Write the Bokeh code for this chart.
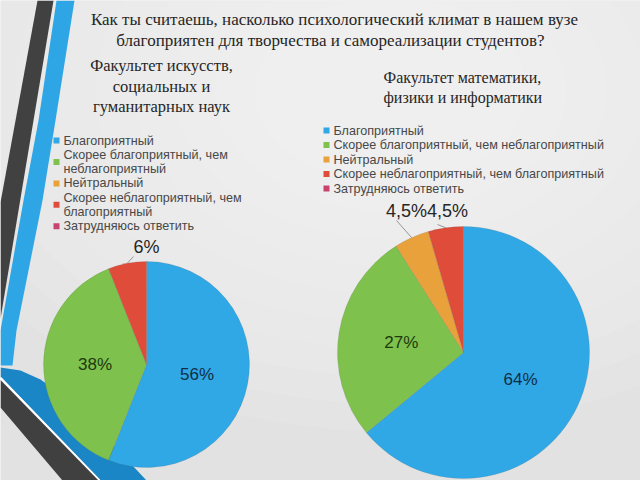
import numpy as np
from bokeh.plotting import figure
from bokeh.models import Range1d
from bokeh.embed import file_html
from bokeh.resources import INLINE
from bokeh.core.properties import value

# ---------------- data ----------------
categories = [
    "Благоприятный",
    "Скорее благоприятный, чем неблагоприятный",
    "Нейтральный",
    "Скорее неблагоприятный, чем благоприятный",
    "Затрудняюсь ответить",
]
slice_colors = ["#30A8E6", "#7EC14D", "#E9A13C", "#DF4C3A", "#C8446F"]
label_colors = ["#0F2E45", "#1D3A0F", "#262626", "#262626", "#262626"]

arts_values = [56, 38, 0, 6, 0]
arts_labels = ["56%", "38%", "", "6%", ""]
math_values = [64, 27, 4.5, 4.5, 0]
math_labels = ["64%", "27%", "4,5%", "4,5%", ""]

title_lines = [
    "Как ты считаешь, насколько психологический климат в нашем вузе",
    "благоприятен для творчества и самореализации студентов?",
]
arts_title = ["Факультет искусств,", "социальных и", "гуманитарных наук"]
math_title = ["Факультет математики,", "физики и информатики"]

# ---------------- layout ----------------
W, H = 640, 480
def Y(v):
    return H - v

SANS = "Liberation Sans"
SERIF = "Liberation Serif"

p = figure(width=W, height=H, x_range=Range1d(0, W), y_range=Range1d(0, H),
           output_backend="svg", toolbar_location=None, min_border=0,
           x_axis_location=None, y_axis_location=None)
p.grid.visible = False
p.outline_line_color = None
p.background_fill_color = "#E2E2E2"
p.border_fill_color = "#E2E2E2"

# soft radial background light
for k in range(10):
    rr = 620 - k * 50
    p.ellipse(x=390, y=Y(90), width=rr * 1.6, height=rr * 1.1,
              fill_color="white", fill_alpha=0.08, line_color=None)

# decorative stripes on the left
p.patch(x=[37, 53, 0, 0], y=[Y(0), Y(0), Y(318), Y(202)], fill_color="#414141", line_color=None)
p.patch(x=[56, 74, 55, 42, 16, 12, 0, 0, 23, 38],
        y=[Y(0), Y(0), Y(120), Y(200), Y(330), Y(365), Y(365), Y(330), Y(200), Y(120)],
        fill_color="#2EA6E5", line_color=None)
p.patch(x=[0, 20, 40, 60, 90, 146, 100, 0],
        y=[Y(367), Y(370), Y(379), Y(393), Y(420), Y(480), Y(480), Y(376)],
        fill_color="#1A86C6", line_color=None)
p.line(x=[0, 99], y=[Y(377.5), Y(480)], line_color="white", line_width=2)
p.patch(x=[0, 98, 62, 0], y=[Y(379.5), Y(480), Y(480), Y(407)], fill_color="#404040", line_color=None)

# titles
p.text(x=[334, 330], y=[Y(19), Y(40)], text=title_lines, text_align="center",
       text_baseline="middle", text_font=value(SERIF), text_font_size="17px",
       text_color="#262626")
p.text(x=[161] * 3, y=[Y(65), Y(86), Y(106)], text=arts_title, text_align="center",
       text_baseline="middle", text_font=value(SERIF), text_font_size="16.5px",
       text_color="#262626")
p.text(x=[383] * 2, y=[Y(77), Y(97)], text=math_title, text_align="left",
       text_baseline="middle", text_font=value(SERIF), text_font_size="16px",
       text_color="#262626")


def wrap(label, width):
    words, lines, cur = label.split(" "), [], ""
    for w in words:
        cand = (cur + " " + w).strip()
        if len(cand) > width and cur:
            lines.append(cur)
            cur = w
        else:
            cur = cand
    lines.append(cur)
    return lines


def legend(x0, y0, step, width):
    tx, ty, tt, mx, my, mc = [], [], [], [], [], []
    row = 0
    for cat, col in zip(categories, slice_colors):
        lines = wrap(cat, width)
        ys = []
        for ln in lines:
            yy = y0 + row * step
            tx.append(x0 + 7); ty.append(Y(yy)); tt.append(ln)
            ys.append(yy)
            row += 1
        mx.append(x0); my.append(Y(sum(ys) / len(ys))); mc.append(col)
    p.scatter(x=mx, y=my, marker="square", size=6, fill_color=mc, line_color=None)
    p.text(x=tx, y=ty, text=tt, text_baseline="middle", text_font=value(SANS),
           text_font_size="12.6px", text_color="#484848")


legend(56, 140, 14.3, 27)
legend(326, 130, 14.5, 60)


def pie(cx, cy, r, vals, labels, outside):
    vals = np.asarray(vals, dtype=float)
    frac = vals / vals.sum()
    cum = np.concatenate([[0.0], np.cumsum(frac)])
    start = np.pi / 2 - 2 * np.pi * cum[1:]
    end = np.pi / 2 - 2 * np.pi * cum[:-1]
    keep = vals > 0
    p.wedge(x=cx, y=Y(cy), radius=r, start_angle=start[keep], end_angle=end[keep],
            fill_color=[c for c, k in zip(slice_colors, keep) if k],
            line_color="#5a5a5a", line_alpha=0.25, line_width=0.6)
    mid = (start + end) / 2
    ix, iy, it, ic = [], [], [], []
    for i in range(len(vals)):
        if not keep[i]:
            continue
        if i in outside:
            lx, ly, ex, ey = outside[i]
            sx = cx + r * np.cos(mid[i])
            sy = Y(cy) + r * np.sin(mid[i])
            p.segment(x0=sx, y0=sy, x1=ex, y1=Y(ey), line_color="#7F7F7F", line_width=0.8)
            p.text(x=lx, y=Y(ly), text=[labels[i]], text_align="center", text_baseline="middle",
                   text_font=value(SANS), text_font_size="18px", text_color="#262626")
        else:
            ix.append(cx + 0.5 * r * np.cos(mid[i]))
            iy.append(Y(cy) + 0.5 * r * np.sin(mid[i]))
            it.append(labels[i]); ic.append(label_colors[i])
    p.text(x=ix, y=iy, text=it, text_color=ic, text_align="center", text_baseline="middle",
           text_font=value(SANS), text_font_size="17px")


pie(146, 364, 103, arts_values, arts_labels, {3: (146, 246, 133, 256)})
pie(463, 352, 126, math_values, math_labels,
    {2: (406, 210, 396, 220), 3: (447, 210, 437, 224)})

open("out.html", "w").write(file_html(p, INLINE))
